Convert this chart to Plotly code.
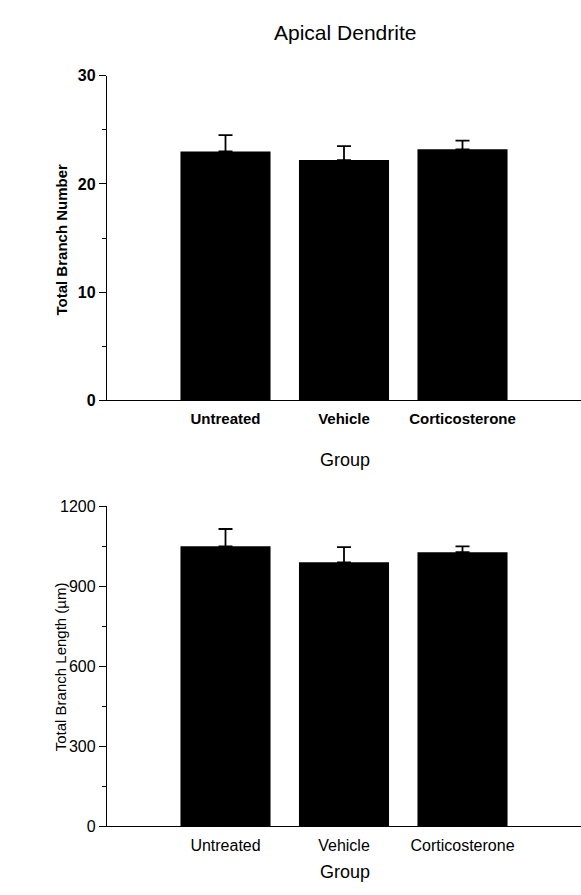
import plotly.graph_objects as go

groups = ["Untreated", "Vehicle", "Corticosterone"]
branch_number = [23.0, 22.2, 23.2]
branch_number_err = [1.5, 1.3, 0.8]
branch_length = [1050, 990, 1028]
branch_length_err = [65, 57, 22]

W, H = 581, 895
FONT = "Liberation Sans, Arial, sans-serif"

def py(p):  # pixel y -> paper
    return 1 - p / H

def px(p):
    return p / W

fig = go.Figure()

fig.add_trace(go.Bar(
    x=groups, y=branch_number, xaxis="x", yaxis="y",
    marker=dict(color="black", line=dict(width=0)),
    error_y=dict(type="data", array=branch_number_err,
                 arrayminus=[0, 0, 0], symmetric=False,
                 color="black", thickness=1.8, width=7),
    showlegend=False))

fig.add_trace(go.Bar(
    x=groups, y=branch_length, xaxis="x2", yaxis="y2",
    marker=dict(color="black", line=dict(width=0)),
    error_y=dict(type="data", array=branch_length_err,
                 arrayminus=[0, 0, 0], symmetric=False,
                 color="black", thickness=1.8, width=7),
    showlegend=False))

xdom = [px(107), 1.0]

top_font = dict(family=FONT, size=15, color="black", weight="bold")
top_yfont = dict(family=FONT, size=16, color="black", weight="bold")
bot_font = dict(family=FONT, size=16, color="black")

def xaxis(anchor, tf):
    return dict(domain=xdom, anchor=anchor, range=[-1, 3], showline=True,
                linecolor="black", linewidth=1.3, ticks="", showgrid=False,
                zeroline=False, ticklabelstandoff=4, tickfont=tf)

fig.update_layout(
    width=W, height=H,
    margin=dict(l=0, r=0, t=0, b=0),
    paper_bgcolor="white", plot_bgcolor="white",
    bargap=0.24,
    font=dict(family=FONT, color="black"),
    xaxis=xaxis("y", top_font),
    xaxis2=xaxis("y2", bot_font),
    yaxis=dict(
        domain=[py(400), py(69)], anchor="x", range=[0, 30],
        tickvals=[0, 10, 20, 30], ticks="outside", ticklen=7, tickwidth=1.3,
        tickcolor="black", showline=True, linecolor="black", linewidth=1.3,
        showgrid=False, zeroline=False,
        minor=dict(tickvals=[5, 15, 25], ticks="outside", ticklen=4,
                   tickcolor="black", tickwidth=1),
        tickfont=top_yfont),
    yaxis2=dict(
        domain=[py(834), py(508)], anchor="x2", range=[0, 1200],
        tickvals=[0, 300, 600, 900, 1200], ticks="outside", ticklen=7,
        tickwidth=1.3, tickcolor="black", showline=True, linecolor="black",
        linewidth=1.3, showgrid=False, zeroline=False,
        minor=dict(tickvals=[150, 450, 750, 1050], ticks="outside", ticklen=4,
                   tickcolor="black", tickwidth=1),
        tickfont=bot_font),
)

annots = [
    dict(text="Apical Dendrite", x=px(345), y=py(25), size=21, angle=0, bold=False),
    dict(text="Total Branch Number", x=px(62), y=py(236), size=15, angle=-90, bold=True),
    dict(text="Group", x=px(345), y=py(461), size=18, angle=0, bold=False),
    dict(text="Total Branch Length (\u00b5m)", x=px(60), y=py(672), size=15, angle=-90, bold=False),
    dict(text="Group", x=px(345), y=py(881), size=18, angle=0, bold=False),
]
for a in annots:
    f = dict(family=FONT, size=a["size"], color="black")
    if a["bold"]:
        f["weight"] = "bold"
    fig.add_annotation(text=a["text"], x=a["x"], y=a["y"], xref="paper",
                       yref="paper", xanchor="center", yanchor="middle",
                       showarrow=False, textangle=a["angle"], font=f)

fig.write_html(
    "out.html",
    config={"displayModeBar": False},
    post_script="document.body.style.margin='0';"
                "document.body.style.overflow='hidden';"
                "document.documentElement.style.overflow='hidden';")
